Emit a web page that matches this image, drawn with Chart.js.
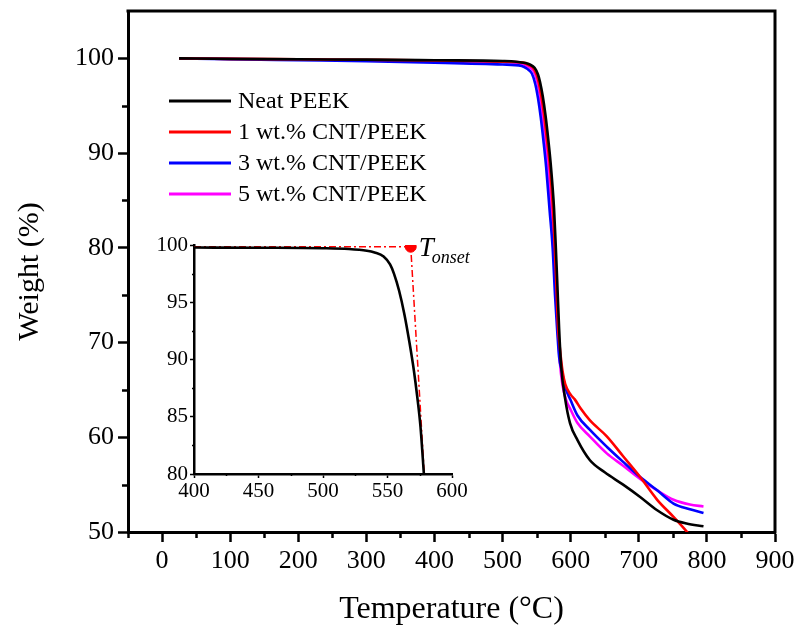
<!DOCTYPE html>
<html>
<head>
<meta charset="utf-8">
<script src="https://cdn.jsdelivr.net/npm/chart.js@4.4.1/dist/chart.umd.min.js"></script>
<style>
  body { margin: 0; background: #fff; }
  #wrap { position: relative; width: 800px; height: 635px; }
  #inset { position: absolute; left: 150px; top: 225px; }
</style>
</head>
<body>
<div id="wrap">
  <canvas id="main" width="800" height="635"></canvas>
  <canvas id="inset" width="330" height="280"></canvas>
</div>
<script>
// Main TGA curves (temperature in °C, weight in %)
var neatT = [25, 100, 200, 300, 400, 500, 520, 534, 540, 547, 552, 555, 559, 563, 567, 570.5, 575.6, 578.2, 580.5, 583, 586, 592, 599, 610, 628, 650, 677, 702, 727, 751, 770, 795];
var neatW = [100, 99.95, 99.9, 99.87, 99.8, 99.72, 99.65, 99.5, 99.35, 99.0, 98.3, 97.5, 96.0, 94.0, 91.5, 89.0, 84.1, 80.0, 76.0, 71.5, 67.5, 64.0, 61.5, 59.7, 57.6, 56.3, 55.0, 53.7, 52.3, 51.3, 50.9, 50.6];

var cnt1T = [25, 100, 200, 300, 400, 500, 530, 538, 545, 550, 553, 557, 561, 565, 569, 574, 576.7, 579, 581.5, 584, 588, 592, 600, 606, 615, 628, 653, 677, 702, 727, 751, 771, 780];
var cnt1W = [100, 99.95, 99.9, 99.85, 99.78, 99.65, 99.55, 99.3, 99.0, 98.3, 97.5, 96.0, 94.0, 91.5, 89.0, 84.0, 80.0, 76.0, 71.5, 69.5, 67.0, 65.6, 64.5, 64.0, 63.0, 61.8, 60.1, 58.0, 55.8, 53.4, 51.6, 50.0, 49.2];

var cnt3T = [25, 100, 200, 300, 400, 500, 528, 536, 543, 548, 552, 556, 560, 564, 569, 573.5, 577, 580, 583, 587, 592, 600, 610, 628, 653, 677, 702, 727, 751, 775, 795];
var cnt3W = [100, 99.9, 99.8, 99.7, 99.55, 99.35, 99.2, 98.9, 98.4, 97.3, 95.8, 93.8, 91.3, 88.5, 84.0, 80.0, 75.0, 71.5, 68.5, 67.0, 65.3, 63.9, 62.3, 60.8, 59.0, 57.4, 55.8, 54.4, 53.0, 52.4, 52.0];

var cnt5T = [25, 100, 200, 300, 400, 500, 530, 538, 545, 550, 554, 558, 562, 566, 571, 575, 578, 581, 584, 588, 593, 600, 610, 628, 653, 677, 702, 727, 751, 775, 795];
var cnt5W = [100, 99.95, 99.88, 99.8, 99.72, 99.62, 99.4, 99.1, 98.7, 97.8, 96.4, 94.3, 91.8, 89.0, 84.0, 80.0, 76.0, 71.5, 68.0, 65.5, 64.0, 62.9, 61.5, 60.1, 58.3, 57.0, 55.6, 54.4, 53.4, 52.9, 52.7];

var seriesLabels = ['Neat PEEK', '1 wt.% CNT/PEEK', '3 wt.% CNT/PEEK', '5 wt.% CNT/PEEK'];
var seriesColors = ['#000000', '#ff0000', '#0000ff', '#ff00ff'];

var xTicks = [0, 100, 200, 300, 400, 500, 600, 700, 800, 900];
var xMinor = [-50, 50, 150, 250, 350, 450, 550, 650, 750, 850];
var yTicks = [50, 60, 70, 80, 90, 100];
var yMinor = [55, 65, 75, 85, 95];

// Inset: neat PEEK near onset, with tangent construction
var insetT = [400, 450, 500, 520, 534, 540, 547, 552, 555, 559, 563, 567, 570.5, 573, 575.6, 578.2];
var insetW = [99.78, 99.76, 99.72, 99.65, 99.5, 99.35, 99.0, 98.3, 97.5, 96.0, 94.0, 91.5, 89.0, 86.8, 84.1, 80.0];
var onsetLineT = [400, 568, 578.5];
var onsetLineW = [99.85, 99.85, 80];
var onsetT = [568];
var onsetW = [99.85];

var insetXTicks = [400, 450, 500, 550, 600];
var insetXMinor = [425, 475, 525, 575];
var insetYTicks = [80, 85, 90, 95, 100];
var insetYMinor = [82.5, 87.5, 92.5, 97.5];

var FONT = "'Liberation Serif', 'Times New Roman', serif";

function pts(xs, ys) {
    return xs.map(function(x, i) { return {x: x, y: ys[i]}; });
}

function fixedTicks(list) {
    return function(scale) {
        scale.ticks = list.map(function(v) { return {value: v}; });
    };
}

// minor ticks, top/right frame, legend and labels
var decor = {
    id: 'decor',
    afterDraw: function(chart, args, opts) {
        var ctx = chart.ctx, a = chart.chartArea;
        var sx = chart.scales.x, sy = chart.scales.y;
        ctx.save();
        ctx.strokeStyle = '#000';
        ctx.lineWidth = opts.tickWidth;
        ctx.beginPath();
        opts.xMinor.forEach(function(v) {
            var px = Math.round(sx.getPixelForValue(v)) + 0.5;
            ctx.moveTo(px, a.bottom);
            ctx.lineTo(px, a.bottom + opts.minorLen);
        });
        opts.yMinor.forEach(function(v) {
            var py = Math.round(sy.getPixelForValue(v)) + 0.5;
            ctx.moveTo(a.left, py);
            ctx.lineTo(a.left - opts.minorLen, py);
        });
        ctx.stroke();

        if (opts.frame) {
            ctx.lineWidth = 3;
            ctx.beginPath();
            ctx.moveTo(a.left - 1.5, a.top);
            ctx.lineTo(a.right, a.top);
            ctx.lineTo(a.right, a.bottom + 1.5);
            ctx.stroke();
        }

        if (opts.legend) {
            var lg = opts.legend;
            ctx.font = lg.size + 'px ' + FONT;
            ctx.textBaseline = 'middle';
            ctx.fillStyle = '#000';
            chart.data.datasets.forEach(function(ds, i) {
                var y = lg.y + i * lg.dy;
                ctx.strokeStyle = ds.borderColor;
                ctx.lineWidth = 3;
                ctx.beginPath();
                ctx.moveTo(lg.x, y);
                ctx.lineTo(lg.x + lg.len, y);
                ctx.stroke();
                ctx.fillText(ds.label, lg.x + lg.len + lg.gap, y + 1);
            });
        }

        if (opts.onsetLabel) {
            var px = sx.getPixelForValue(onsetT[0]);
            var py = sy.getPixelForValue(onsetW[0]);
            ctx.fillStyle = '#000';
            ctx.textBaseline = 'alphabetic';
            ctx.font = 'italic 27px ' + FONT;
            ctx.fillText('T', px + 8, py + 9);
            var tw = ctx.measureText('T').width;
            ctx.font = 'italic 18px ' + FONT;
            ctx.fillText('onset', px + 8 + tw - 2, py + 16);
        }
        ctx.restore();
    }
};

function noPad(s) {
    s.paddingTop = 0;
    s.paddingBottom = 0;
}

new Chart(document.getElementById('main'), {
    type: 'line',
    data: {
        datasets: [
            {label: seriesLabels[0], data: pts(neatT, neatW), borderColor: seriesColors[0]},
            {label: seriesLabels[1], data: pts(cnt1T, cnt1W), borderColor: seriesColors[1]},
            {label: seriesLabels[2], data: pts(cnt3T, cnt3W), borderColor: seriesColors[2]},
            {label: seriesLabels[3], data: pts(cnt5T, cnt5W), borderColor: seriesColors[3]}
        ]
    },
    options: {
        responsive: false,
        animation: false,
        devicePixelRatio: 1,
        layout: {padding: {left: 0, top: 11, right: 25, bottom: 0}},
        elements: {
            point: {radius: 0},
            line: {borderWidth: 2.6, cubicInterpolationMode: 'monotone', fill: false}
        },
        plugins: {
            legend: {display: false},
            tooltip: {enabled: false},
            decor: {
                xMinor: xMinor, yMinor: yMinor, minorLen: 6, tickWidth: 2.5, frame: true,
                legend: {x: 169, y: 101, dy: 31, len: 62, gap: 7, size: 24}
            }
        },
        scales: {
            x: {
                type: 'linear', min: -50, max: 900,
                afterBuildTicks: fixedTicks(xTicks),
                afterFit: function(s) { s.height = 103; },
                grid: {drawOnChartArea: false, tickLength: 10, tickWidth: 2.5, color: '#000'},
                border: {width: 3, color: '#000'},
                ticks: {color: '#000', padding: 4, maxRotation: 0, font: {family: FONT, size: 26}},
                title: {display: true, text: 'Temperature (°C)', color: '#000', padding: {top: 0, bottom: 6}, font: {family: FONT, size: 32}}
            },
            y: {
                min: 50, max: 105,
                afterBuildTicks: fixedTicks(yTicks),
                afterFit: function(s) { s.width = 128; noPad(s); },
                grid: {drawOnChartArea: false, tickLength: 10, tickWidth: 2.5, color: '#000'},
                border: {width: 3, color: '#000'},
                ticks: {color: '#000', padding: 4, font: {family: FONT, size: 26}},
                title: {display: true, text: 'Weight (%)', color: '#000', padding: {top: 12, bottom: 0}, font: {family: FONT, size: 30}}
            }
        }
    },
    plugins: [decor]
});

new Chart(document.getElementById('inset'), {
    type: 'line',
    data: {
        datasets: [
            {label: 'Neat PEEK', data: pts(insetT, insetW), borderColor: '#000', borderWidth: 2.6},
            {label: 'tangent', data: pts(onsetLineT, onsetLineW), borderColor: '#ff0000', borderWidth: 1.5,
             borderDash: [7, 3, 2, 3], cubicInterpolationMode: 'default', tension: 0},
            {label: 'onset', data: pts(onsetT, onsetW), borderColor: '#ff0000', backgroundColor: '#ff0000',
             pointRadius: 5.5, showLine: false}
        ]
    },
    options: {
        responsive: false,
        animation: false,
        devicePixelRatio: 1,
        layout: {padding: {left: 0, top: 20, right: 28, bottom: 0}},
        elements: {
            point: {radius: 0},
            line: {cubicInterpolationMode: 'monotone', fill: false}
        },
        plugins: {
            legend: {display: false},
            tooltip: {enabled: false},
            decor: {xMinor: insetXMinor, yMinor: insetYMinor, minorLen: 2, tickWidth: 1.5, frame: false, onsetLabel: true}
        },
        scales: {
            x: {
                type: 'linear', min: 400, max: 600,
                afterBuildTicks: fixedTicks(insetXTicks),
                afterFit: function(s) { s.height = 31; },
                grid: {drawOnChartArea: false, tickLength: 4, tickWidth: 1.5, color: '#000'},
                border: {width: 2.5, color: '#000'},
                ticks: {color: '#000', padding: 1, maxRotation: 0, font: {family: FONT, size: 21}}
            },
            y: {
                min: 80, max: 100,
                afterBuildTicks: fixedTicks(insetYTicks),
                afterFit: function(s) { s.width = 44; noPad(s); },
                grid: {drawOnChartArea: false, tickLength: 4, tickWidth: 1.5, color: '#000'},
                border: {width: 2.5, color: '#000'},
                ticks: {color: '#000', padding: 2, font: {family: FONT, size: 21}}
            }
        }
    },
    plugins: [decor]
});
</script>
</body>
</html>
